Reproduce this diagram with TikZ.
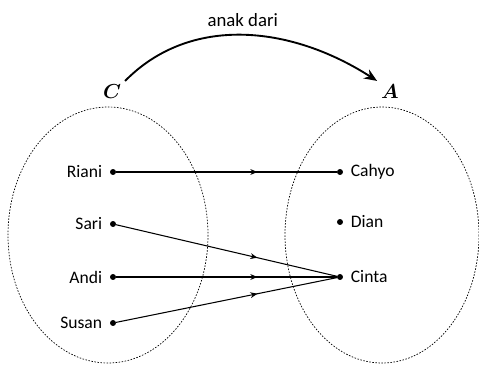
\documentclass[tikz,border=0pt]{standalone}
\usepackage{fontspec}
\setmainfont{Carlito}
\usetikzlibrary{arrows.meta, positioning, decorations.markings}

\begin{document}
\begin{tikzpicture}[x=0.03cm, y=-0.03cm,
  set/.style={draw, dash pattern=on 1.3pt off 1.3pt, line width=0.6pt},
  setname/.style={font=\fontsize{16}{18}\selectfont\boldmath},
  pt/.style={circle, fill, inner sep=1.8pt},
  lbl/.style={font=\fontsize{15}{17}\selectfont, label distance=3pt},
  map/.style={line width=0.9pt, postaction={decorate},
              decoration={markings, mark=at position 0.64 with {\arrow{Stealth[length=6pt,width=5pt]}}}},
  rel/.style={-{Stealth[length=11pt,width=9pt]}, line width=1.6pt},
]
\useasboundingbox (0,0) rectangle (479,364);

% himpunan C dan A
\draw[set] (108,235) ellipse [x radius=100, y radius=128];
\draw[set] (382,235) ellipse [x radius=97, y radius=128];
\node[setname] (setc) at (112,92) {$C$};
\node[setname] (seta) at (390,92) {$A$};

\draw[rel] (setc.north east) .. controls (190,15) and (290,25) .. (seta.north west)
  node[midway, above=3pt, font=\fontsize{16}{18}\selectfont] (rlbl) {anak dari};

% anggota C
\node[pt, label={[lbl]left:Riani}] (riani) at (113,172) {};
\node[pt, label={[lbl]left:Sari}]  (sari)  at (113,224) {};
\node[pt, label={[lbl]left:Andi}]  (andi)  at (113,277) {};
\node[pt, label={[lbl]left:Susan}] (susan) at (113,323) {};

% anggota A
\node[pt, label={[lbl]right:Cahyo}] (cahyo) at (340,172) {};
\node[pt, label={[lbl]right:Dian}]  (dian)  at (340,222) {};
\node[pt, label={[lbl]right:Cinta}] (cinta) at (340,277) {};

\draw[map] (riani) -- (cahyo);
\draw[map] (sari) -- (cinta);
\draw[map] (andi) -- (cinta);
\draw[map] (susan) -- (cinta);
\end{tikzpicture}
\end{document}
